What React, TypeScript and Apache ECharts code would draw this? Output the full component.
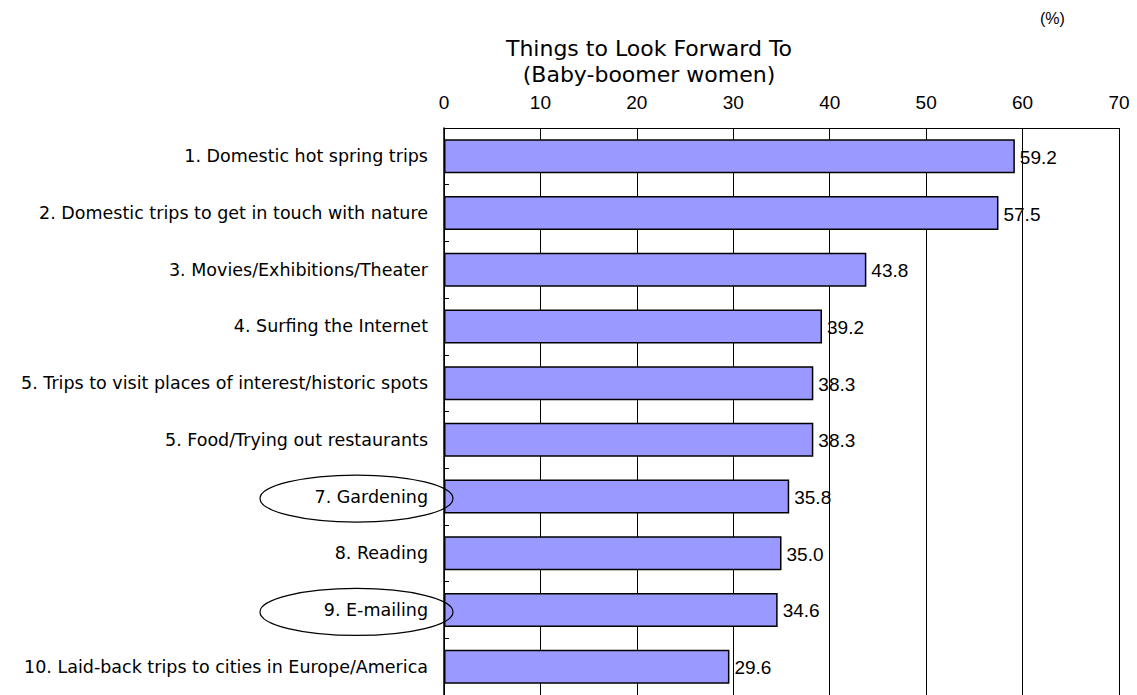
import React, { useEffect, useRef } from "react";
import * as echarts from "echarts";

const categories = [
  "1. Domestic hot spring trips",
  "2. Domestic trips to get in touch with nature",
  "3. Movies/Exhibitions/Theater",
  "4. Surfing the Internet",
  "5. Trips to visit places of interest/historic spots",
  "5. Food/Trying out restaurants",
  "7. Gardening",
  "8. Reading",
  "9. E-mailing",
  "10. Laid-back trips to cities in Europe/America",
];
const values = [59.2, 57.5, 43.8, 39.2, 38.3, 38.3, 35.8, 35.0, 34.6, 29.6];
const circledIndices = [6, 8];
const titleText = "Things to Look Forward To\n(Baby-boomer women)";
const unitText = "(%)";

const FONT = "'DejaVu Sans', 'Noto Sans', sans-serif";
const NUMFONT = "'Liberation Sans', Arial, sans-serif";

export default function App() {
  const ref = useRef<HTMLDivElement>(null);
  useEffect(() => {
    if (!ref.current) return;
    const chart = echarts.init(ref.current, null, { renderer: "svg" });
    const gridLeft = 444;
    chart.setOption({
      animation: false,
      backgroundColor: "#ffffff",
      textStyle: { fontFamily: FONT },
      title: [
        {
          text: titleText,
          left: 644,
          top: 30,
          textAlign: "center",
          textStyle: {
            fontFamily: FONT,
            fontSize: 22,
            fontWeight: "normal",
            color: "#000",
            lineHeight: 26,
          },
        },
        {
          text: unitText,
          left: 1035,
          top: 5,
          textStyle: { fontFamily: NUMFONT, fontSize: 16, fontWeight: "normal", color: "#000" },
        },
      ],
      grid: { left: gridLeft, top: 128, width: 675, height: 572 },
      xAxis: {
        type: "value",
        position: "top",
        min: 0,
        max: 70,
        interval: 10,
        axisLine: { show: true, lineStyle: { color: "#000", width: 1 } },
        axisTick: { show: false },
        axisLabel: { fontSize: 19, color: "#000", margin: 16, fontFamily: NUMFONT },
        splitLine: { show: true, lineStyle: { color: "#000", width: 1 } },
      },
      yAxis: {
        type: "category",
        inverse: true,
        data: categories,
        axisLine: { show: true, lineStyle: { color: "#000", width: 1.5 } },
        axisTick: { show: true, inside: true, length: 5, lineStyle: { color: "#000" } },
        axisLabel: {
          fontSize: 17.5,
          color: "#000",
          margin: 16,
          fontFamily: FONT,
          padding: [6, 0, 0, 0],
        },
      },
      series: [
        {
          type: "bar",
          data: values,
          barWidth: 34,
          itemStyle: { color: "#9999FF", borderColor: "#000", borderWidth: 1.5 },
          label: {
            show: true,
            position: "right",
            distance: 5,
            fontSize: 19,
            color: "#000",
            fontFamily: NUMFONT,
            offset: [0, 1],
            formatter: (p: any) => Number(p.value).toFixed(1),
          },
        },
      ],
    });
    const ellipses = circledIndices.map((i) => {
      const y = chart.convertToPixel({ yAxisIndex: 0 }, i) as number;
      return {
        type: "ellipse",
        shape: { cx: gridLeft - 87.5, cy: y + 2, rx: 96.5, ry: 23.5 },
        style: { fill: "none", stroke: "#000", lineWidth: 1.2 },
        z: 10,
      };
    });
    chart.setOption({ graphic: ellipses });
    return () => chart.dispose();
  }, []);
  return (
    <div
      ref={ref}
      style={{ position: "fixed", left: 0, top: 0, width: 1137, height: 695, background: "#fff" }}
    />
  );
}
